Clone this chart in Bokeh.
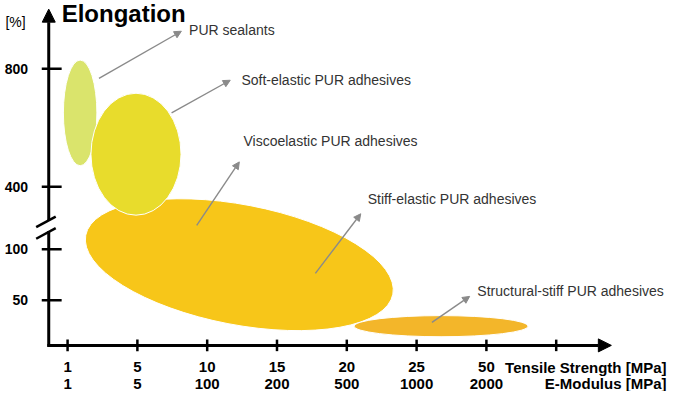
from bokeh.plotting import figure
from bokeh.models import ColumnDataSource, Arrow, NormalHead
from bokeh.core.properties import value
from bokeh.embed import file_html
from bokeh.resources import INLINE

# ---- data ----
# x axis: tick slots with two rows of labels
x_ticks = [0, 1, 2, 3, 4, 5, 6, 7]
tensile_labels = ["1", "5", "10", "15", "20", "25", "50", ""]
modulus_labels = ["1", "5", "100", "200", "500", "1000", "2000", ""]

# y axis (broken): display positions and their labels
y_ticks = [47, 100, 165, 288]
y_labels = ["50", "100", "400", "800"]

# property zones (ellipses), in axis units
zone_names = ["Viscoelastic / stiff-elastic", "Structural-stiff", "PUR sealants", "Soft-elastic"]
zone_x = [2.46, 5.35, 0.18, 0.98]
zone_y = [84, 20, 242, 199]
zone_w = [4.48, 2.49, 0.48, 1.29]
zone_h = [125, 22, 110, 127]
zone_angle = [-0.19, 0.0, 0.0, 0.0]
zone_color = ["#F7C619", "#F3B62A", "#DAE46C", "#E8DC2C"]

# annotation pointers
ptr_x0 = [0.45, 1.49, 1.85, 3.55, 5.22]
ptr_y0 = [278, 242, 125, 75, 24]
ptr_x1 = [1.63, 2.33, 2.46, 4.20, 5.76]
ptr_y1 = [327, 276, 191, 137, 51]

lab_x = [1.74, 2.49, 2.52, 4.30, 5.87]
lab_y = [328, 276, 213, 152, 57]
lab_text = ["PUR sealants", "Soft-elastic PUR adhesives", "Viscoelastic PUR adhesives",
            "Stiff-elastic PUR adhesives", "Structural-stiff PUR adhesives"]

x_title_top = "Tensile Strength [MPa]"
x_title_bottom = "E-Modulus [MPa]"
y_title = "Elongation"
y_unit = "[%]"

FONT = value("Liberation Sans")

p = figure(width=669, height=391, x_range=(-0.961, 8.623), y_range=(-48, 359),
           output_backend="svg", toolbar_location=None,
           x_axis_type=None, y_axis_type=None,
           min_border_left=0, min_border_right=0, min_border_top=0, min_border_bottom=0)
p.outline_line_color = None
p.background_fill_color = "white"

# zones
zones = ColumnDataSource(dict(x=zone_x, y=zone_y, w=zone_w, h=zone_h,
                              angle=zone_angle, color=zone_color, name=zone_names))
p.ellipse(x="x", y="y", width="w", height="h", angle="angle", source=zones,
          fill_color="color", line_color="white", line_width=1)

# axis lines with arrows
AX_X = -0.27
p.add_layout(Arrow(end=NormalHead(size=13, fill_color="black", line_color="black"),
                   x_start=-0.29, y_start=0, x_end=7.79, y_end=0,
                   line_color="black", line_width=3))
p.add_layout(Arrow(end=NormalHead(size=13, fill_color="black", line_color="black"),
                   x_start=AX_X, y_start=130, x_end=AX_X, y_end=350,
                   line_color="black", line_width=3))
p.segment(x0=[AX_X], y0=[-1.5], x1=[AX_X], y1=[119], line_color="black", line_width=3)
# break marks
p.segment(x0=[-0.45, -0.45], y0=[123, 111], x1=[-0.17, -0.17], y1=[134, 122],
          line_color="black", line_width=2.5)
# tick marks
p.segment(x0=x_ticks, y0=[-6] * len(x_ticks), x1=x_ticks, y1=[6] * len(x_ticks),
          line_color="black", line_width=2.5)
p.segment(x0=[-0.37] * len(y_ticks), y0=y_ticks, x1=[-0.085] * len(y_ticks), y1=y_ticks,
          line_color="black", line_width=2.5)

# tick labels
p.text(x=x_ticks, y=[-23] * len(x_ticks), text=tensile_labels, text_font=FONT,
       text_font_style="bold", text_font_size="15px", text_color="black",
       text_align="center", text_baseline="middle")
p.text(x=x_ticks, y=[-40] * len(x_ticks), text=modulus_labels, text_font=FONT,
       text_font_style="bold", text_font_size="15px", text_color="black",
       text_align="center", text_baseline="middle")
p.text(x=[-0.566] * len(y_ticks), y=y_ticks, text=y_labels, text_font=FONT,
       text_font_style="bold", text_font_size="14px", text_color="black",
       text_align="right", text_baseline="middle")

# pointers and labels
ptr = ColumnDataSource(dict(x0=ptr_x0, y0=ptr_y0, x1=ptr_x1, y1=ptr_y1))
p.add_layout(Arrow(end=NormalHead(size=7, fill_color="#8a8a8a", line_color="#8a8a8a"),
                   x_start="x0", y_start="y0", x_end="x1", y_end="y1", source=ptr,
                   line_color="#8a8a8a", line_width=1.4))
p.text(x=lab_x, y=lab_y, text=lab_text, text_font=FONT, text_font_size="14px",
       text_color="#333333", text_baseline="middle", text_align="left")

# axis titles
p.text(x=[-0.085], y=[345.5], text=[y_title], text_font=FONT, text_font_style="bold",
       text_font_size="24px", text_color="black", text_baseline="middle")
p.text(x=[-0.89], y=[337], text=[y_unit], text_font=FONT, text_font_size="14px",
       text_color="black", text_baseline="middle")
p.text(x=[8.58, 8.58], y=[-23, -40], text=[x_title_top, x_title_bottom], text_font=FONT,
       text_font_style="bold", text_font_size="15px", text_color="black",
       text_baseline="middle", text_align="right")

open("out.html", "w").write(file_html(p, INLINE))
